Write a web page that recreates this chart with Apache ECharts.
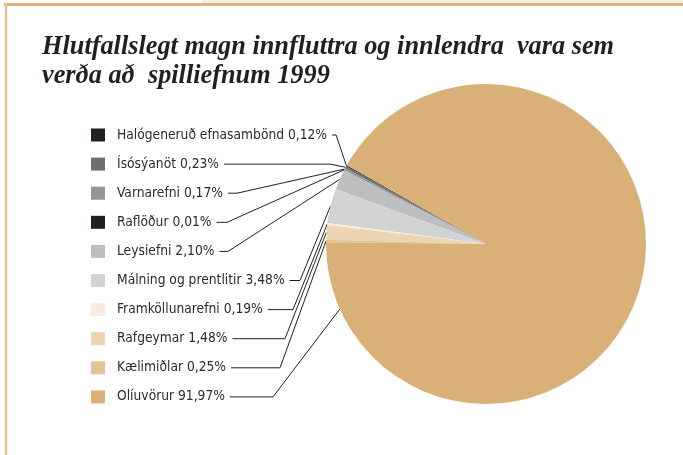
<!DOCTYPE html>
<html>
<head>
<meta charset="utf-8">
<script src="https://cdn.jsdelivr.net/npm/echarts@6/dist/echarts.min.js"></script>
<style>
  html, body { margin: 0; padding: 0; background: #fff; }
  #chart { width: 683px; height: 455px; }
</style>
</head>
<body>
<div id="chart"></div>
<script>
// flokkar og hlutfall (%)
const categories = [
  'Halógeneruð efnasambönd', 'Ísósýanöt', 'Varnarefni', 'Raflöður', 'Leysiefni',
  'Málning og prentlitir', 'Framköllunarefni', 'Rafgeymar', 'Kælimiðlar', 'Olíuvörur'
];
const values = [0.12, 0.23, 0.17, 0.01, 2.10, 3.48, 0.19, 1.48, 0.25, 91.97];
const colors = [
  '#231f20', '#6d6e71', '#939598', '#231f20', '#bcbec0',
  '#d1d3d4', '#f6ecdf', '#ebd5b3', '#e2c494', '#d9b077'
];

// layout
const cx = 486, cy = 244, r = 160;
const labelX = 91, rowTop = 135, rowGap = 29.1;
const elbowX = [333, 330, 237, 227, 228, 300, 293, 285, 280, 273];
const anchorDeg = [null, null, null, null, null, null, null, null, null, 204];

const chart = echarts.init(document.getElementById('chart'));

const rich = {
  t: {
    fontFamily: '"DejaVu Sans Condensed", "Liberation Sans Narrow", "DejaVu Sans", sans-serif',
    fontSize: 13.7,
    color: '#2b2b2b',
    padding: [0, 0, 0, 12],
    verticalAlign: 'middle'
  }
};
colors.forEach((c, i) => {
  rich['s' + i] = { width: 14, height: 13, backgroundColor: c, verticalAlign: 'middle' };
});

const option = {
  animation: false,
  title: {
    text: 'Hlutfallslegt magn innfluttra og innlendra  vara sem\nverða að  spilliefnum 1999',
    left: 37,
    top: 28,
    textStyle: {
      fontFamily: 'Liberation Serif',
      fontStyle: 'italic',
      fontWeight: 'bold',
      fontSize: 26.3,
      lineHeight: 29,
      color: '#231f20'
    }
  },
  graphic: [
    { type: 'rect', shape: { x: 202, y: 0, width: 481, height: 3 }, style: { fill: '#f8eee2' } },
    { type: 'line', shape: { x1: 4, y1: 4.5, x2: 683, y2: 4.5 }, style: { stroke: '#dfb47c', lineWidth: 3 } },
    { type: 'line', shape: { x1: 6, y1: 3, x2: 6, y2: 455 }, style: { stroke: '#e6c291', lineWidth: 2.5 } }
  ],
  series: [{
    type: 'pie',
    center: [cx, cy],
    radius: r,
    startAngle: 150.5,
    clockwise: false,
    avoidLabelOverlap: false,
    itemStyle: { borderWidth: 0 },
    data: categories.map((name, i) => ({ name: name, value: values[i], itemStyle: { color: colors[i] } })),
    label: {
      show: true,
      position: 'outer',
      formatter: p => '{s' + p.dataIndex + '|}{t|' + p.name + ' ' + values[p.dataIndex].toFixed(2).replace('.', ',') + '%}',
      rich: rich
    },
    labelLine: {
      show: true,
      length: 10,
      length2: 10,
      lineStyle: { color: '#231f20', width: 1 }
    },
    labelLayout: function (params) {
      const i = params.dataIndex;
      const y = rowTop + i * rowGap;
      const endX = labelX + params.labelRect.width + 5;
      let p0 = params.labelLinePoints ? params.labelLinePoints[0] : [cx, cy];
      if (anchorDeg[i] != null) {
        const a = anchorDeg[i] * Math.PI / 180;
        p0 = [cx + r * Math.cos(a), cy - r * Math.sin(a)];
      }
      const ex = Math.max(elbowX[i], endX + 4);
      return {
        x: labelX,
        y: y,
        align: 'left',
        verticalAlign: 'middle',
        labelLinePoints: [p0, [ex, y], [endX, y]]
      };
    }
  }]
};

chart.setOption(option);
</script>
</body>
</html>
